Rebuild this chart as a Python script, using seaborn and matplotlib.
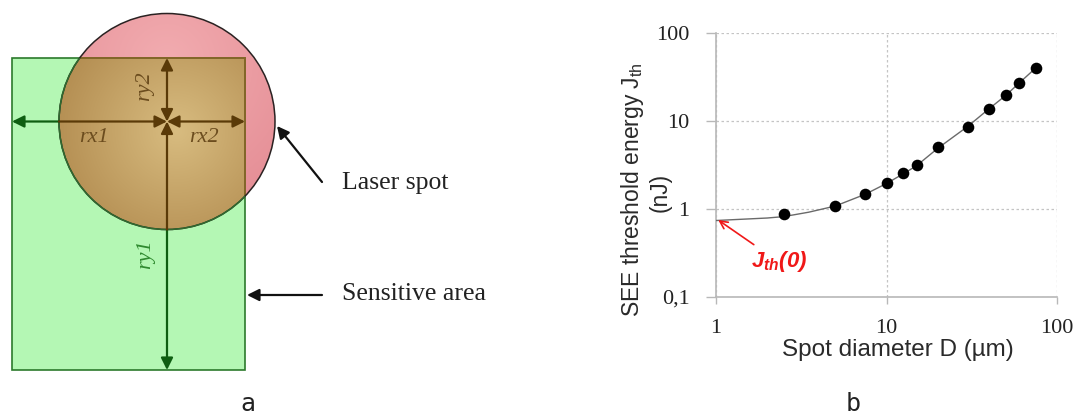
import numpy as np
import pandas as pd
import matplotlib
matplotlib.use("Agg")
import matplotlib.pyplot as plt
import seaborn as sns
from matplotlib.patches import Rectangle, Circle
from matplotlib.ticker import FixedLocator, FixedFormatter, NullLocator

# ---------------- data (panel b) ----------------
spot_diameter = [2.5, 5, 7.5, 10, 12.5, 15, 20, 30, 40, 50, 60, 75]
threshold_energy = [0.87, 1.09, 1.48, 1.96, 2.54, 3.16, 5.0, 8.6, 13.8, 19.6, 27.0, 39.7]
fit_diameter = [1, 2, 2.5, 3.5, 5, 7.5, 10, 12.5, 15, 20, 30, 40, 50, 60, 75]
fit_energy = [0.74, 0.79, 0.82, 0.92, 1.08, 1.47, 1.95, 2.5, 3.1, 4.9, 8.7, 13.8, 19.5, 27.0, 40.0]
x_ticks = [1, 10, 100]
x_tick_labels = ["1", "10", "100"]
y_ticks = [0.1, 1, 10, 100]
y_tick_labels = ["0,1", "1", "10", "100"]
jth0_label = r"$\mathit{J}_{\mathit{th}}$(0)"
ylabel_line1 = "SEE threshold energy $\\mathrm{J}_{\\mathrm{th}}$"
ylabel_line2 = "(nJ)"

# ---------------- schematic (panel a) in pixel units ----------------
rect_x0, rect_y0, rect_x1, rect_y1 = 12, 58, 245, 370
circ_cx, circ_cy, circ_r = 167, 121.5, 108

sns.set_theme(style="white")
plt.rcParams["font.family"] = ["Liberation Sans", "DejaVu Sans"]
plt.rcParams["mathtext.fontset"] = "custom"
plt.rcParams["mathtext.rm"] = "Liberation Sans"
plt.rcParams["mathtext.it"] = "Liberation Sans:italic:bold"

W, H = 1090, 416
fig = plt.figure(figsize=(W / 100, H / 100), dpi=100)
fig.patch.set_facecolor("white")

axd = fig.add_axes([0, 0, 1, 1])
axd.set_xlim(0, W)
axd.set_ylim(H, 0)
axd.axis("off")

GREEN_FILL = "#b4f7b4"
GREEN_DARK = "#0f5e12"
BROWN_DARK = "#5a3a08"

axd.add_patch(Rectangle((rect_x0, rect_y0), rect_x1 - rect_x0, rect_y1 - rect_y0,
                        facecolor=GREEN_FILL, edgecolor="none", zorder=1))

circ = Circle((circ_cx, circ_cy), circ_r, facecolor="none", edgecolor="none", zorder=2)
axd.add_patch(circ)
gx = np.linspace(circ_cx - circ_r, circ_cx + circ_r, 200)
gy = np.linspace(circ_cy - circ_r, circ_cy + circ_r, 200)
GX, GY = np.meshgrid(gx, gy)
dist = np.clip(np.sqrt((GX - circ_cx) ** 2 + (GY - (circ_cy - 60)) ** 2) / (circ_r * 1.6), 0, 1)
pink_light = np.array([242, 172, 176]) / 255
pink_dark = np.array([228, 140, 148]) / 255
pink_img = pink_light[None, None, :] * (1 - dist[..., None]) + pink_dark[None, None, :] * dist[..., None]
im = axd.imshow(pink_img, extent=(gx[0], gx[-1], gy[-1], gy[0]), zorder=2, interpolation="bilinear")
im.set_clip_path(circ)

dist2 = np.clip(np.sqrt((GX - (circ_cx + 10)) ** 2 + (GY - (circ_cy + 10)) ** 2) / (circ_r * 1.15), 0, 1)
tan_light = np.array([216, 188, 128]) / 255
tan_dark = np.array([180, 142, 82]) / 255
tan_img = tan_light[None, None, :] * (1 - dist2[..., None]) + tan_dark[None, None, :] * dist2[..., None]
mask = (GX < rect_x0) | (GX > rect_x1) | (GY < rect_y0) | (GY > rect_y1)
tan_rgba = np.dstack([tan_img, np.where(mask, 0.0, 1.0)])
im3 = axd.imshow(tan_rgba, extent=(gx[0], gx[-1], gy[-1], gy[0]), zorder=3, interpolation="bilinear")
im3.set_clip_path(circ)

axd.add_patch(Rectangle((rect_x0, rect_y0), rect_x1 - rect_x0, rect_y1 - rect_y0,
                        facecolor="none", edgecolor="#2c7a2c", lw=1.2, zorder=4))
rect_edge_in = Rectangle((rect_x0, rect_y0), rect_x1 - rect_x0, rect_y1 - rect_y0,
                         facecolor="none", edgecolor="#8a6428", lw=1.3, zorder=4.1)
axd.add_patch(rect_edge_in)
rect_edge_in.set_clip_path(Circle((circ_cx, circ_cy), circ_r, transform=axd.transData))
axd.add_patch(Circle((circ_cx, circ_cy), circ_r, facecolor="none", edgecolor="#2a2222", lw=1.1, zorder=4.2))
circ_edge_green = Circle((circ_cx, circ_cy), circ_r, facecolor="none", edgecolor="#2f6b2f", lw=1.1, zorder=4.3)
axd.add_patch(circ_edge_green)
circ_edge_green.set_clip_path(Rectangle((rect_x0, rect_y0), rect_x1 - rect_x0, rect_y1 - rect_y0,
                                        transform=axd.transData))


def arrow(p_from, p_to, color, style="-|>", lw=1.6, ms=18, z=5):
    axd.annotate("", xy=p_to, xytext=p_from,
                 arrowprops=dict(arrowstyle=style, color=color, lw=lw,
                                 mutation_scale=ms, shrinkA=0, shrinkB=0),
                 zorder=z)


x_circ_left = circ_cx - circ_r
y_circ_bottom = circ_cy + circ_r
arrow((x_circ_left, circ_cy), (rect_x0, circ_cy), GREEN_DARK)
arrow((x_circ_left, circ_cy), (circ_cx, circ_cy), BROWN_DARK)
arrow((circ_cx, circ_cy), (rect_x1, circ_cy), BROWN_DARK, style="<|-|>")
arrow((circ_cx, circ_cy), (circ_cx, rect_y0), BROWN_DARK, style="<|-|>")
arrow((circ_cx, y_circ_bottom), (circ_cx, rect_y1), GREEN_DARK)
arrow((circ_cx, y_circ_bottom), (circ_cx, circ_cy), BROWN_DARK)

lab_kw = dict(family="Liberation Serif", style="italic", fontsize=16, ha="center", va="center", zorder=6)
axd.text(94, 138, "rx1", color="#6b4c1e", **lab_kw)
axd.text(204, 138, "rx2", color="#6b4c1e", **lab_kw)
axd.text(145, 86, "ry2", color="#6b4c1e", rotation=90, **lab_kw)
axd.text(146, 254, "ry1", color="#2f8a2f", rotation=90, **lab_kw)

arrow((322, 182), (277, 126), "#111111", lw=1.6, ms=18)
arrow((322, 295), (247, 295), "#111111", lw=1.6, ms=18)
axd.text(342, 183, "Laser spot", family="Liberation Serif", fontsize=18.5, color="#222222", ha="left", va="center")
axd.text(342, 294, "Sensitive area", family="Liberation Serif", fontsize=18.5, color="#222222", ha="left", va="center")

axd.text(248, 404, "a", family="DejaVu Sans Mono", fontsize=18, color="#222222", ha="center", va="center")
axd.text(853, 404, "b", family="DejaVu Sans Mono", fontsize=18, color="#222222", ha="center", va="center")

# ---------------- panel b ----------------
L, R, T, B = 716, 1057, 33, 297
ax = fig.add_axes([L / W, 1 - B / H, (R - L) / W, (B - T) / H])
ax.set_facecolor("white")
ax.set_xscale("log")
ax.set_yscale("log")

pts = pd.DataFrame({"D": spot_diameter, "J": threshold_energy})
fit = pd.DataFrame({"D": fit_diameter, "J": fit_energy})
sns.lineplot(data=fit, x="D", y="J", ax=ax, color="#6a6a6a", lw=1.0, zorder=3)
sns.scatterplot(data=pts, x="D", y="J", ax=ax, color="black", s=70, edgecolor="black", linewidth=0, zorder=4)

ax.set_xlim(1, 100)
ax.set_ylim(0.1, 100)
ax.xaxis.set_major_locator(FixedLocator(x_ticks))
ax.xaxis.set_major_formatter(FixedFormatter(x_tick_labels))
ax.yaxis.set_major_locator(FixedLocator(y_ticks))
ax.yaxis.set_major_formatter(FixedFormatter(y_tick_labels))
ax.xaxis.set_minor_locator(NullLocator())
ax.yaxis.set_minor_locator(NullLocator())

ax.grid(True, which="major", color="#c4c4c4", linestyle=(0, (2, 2)), lw=0.9)
for s in ["top", "right"]:
    ax.spines[s].set_visible(False)
for s in ["left", "bottom"]:
    ax.spines[s].set_visible(True)
    ax.spines[s].set_color("#b8b8b8")
    ax.spines[s].set_linewidth(1.2)
ax.tick_params(axis="y", which="major", left=True, length=7, width=1.0, color="#b8b8b8", pad=12)
ax.tick_params(axis="x", which="major", bottom=True, length=5, width=1.0, color="#b8b8b8", pad=11)
for lab in ax.get_xticklabels() + ax.get_yticklabels():
    lab.set_fontfamily("Liberation Serif")
    lab.set_fontsize(16)
    lab.set_color("#222222")

ax.set_xlabel("Spot diameter D (µm)", fontsize=17.5, color="#2a2a2a")
ax.xaxis.set_label_coords((898 - L) / (R - L), -(339 - B) / (B - T))
ax.set_ylabel(ylabel_line1, fontsize=16.5, color="#2a2a2a", va="center")
ax.yaxis.set_label_coords(-(L - 633) / (R - L), 1 - (190 - T) / (B - T))
ax.text(-(L - 660) / (R - L), 1 - (192 - T) / (B - T), ylabel_line2, transform=ax.transAxes,
        rotation=90, fontsize=16.5, color="#2a2a2a", ha="center", va="center")

ax.annotate(jth0_label, xy=(1.03, 0.75), xytext=(1.6, 0.25), color="#f01818",
            fontsize=16, fontweight="bold", fontstyle="italic", ha="left", va="center",
            arrowprops=dict(arrowstyle="->", color="#f01818", lw=1.2, shrinkA=2, shrinkB=0,
                            mutation_scale=14))

fig.savefig("out.png", dpi=100, facecolor="white")
